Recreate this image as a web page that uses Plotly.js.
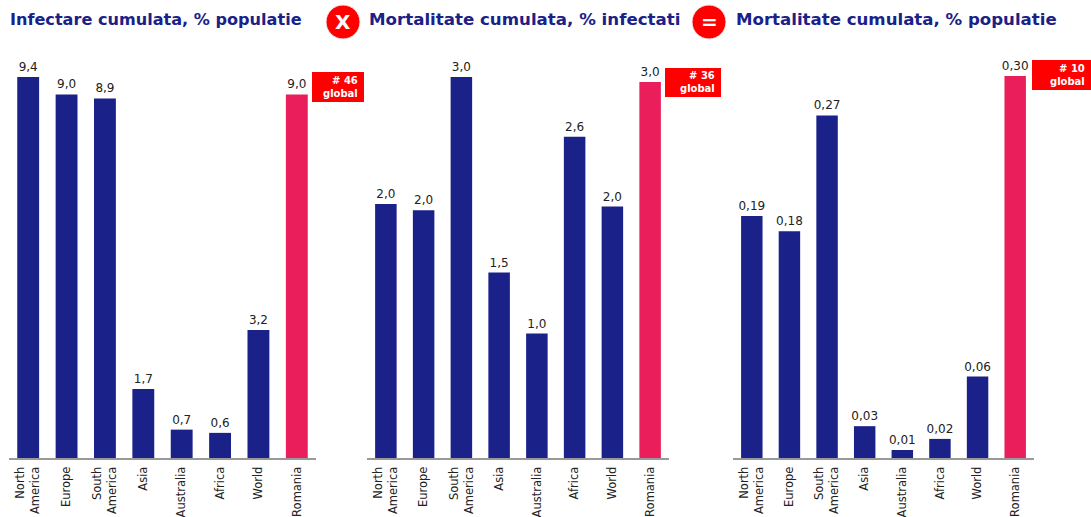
<!DOCTYPE html>
<html><head><meta charset="utf-8">
<script src="https://cdn.plot.ly/plotly-3.0.1.min.js"></script>
<style>html,body{margin:0;padding:0;background:#fff;overflow:hidden}</style></head>
<body><div id="c" style="width:1091px;height:517px"></div>
<script>
const categories=["North<br>America","Europe","South<br>America","Asia","Australia","Africa","World","Romania"];
const infectare=[9.4,8.97,8.87,1.7,0.7,0.62,3.16,8.97];
const mortInfectati=[2.0,1.95,3.0,1.46,0.98,2.53,1.98,2.96];
const mortPopulatie=[0.19,0.178,0.269,0.025,0.0063,0.015,0.064,0.30];
const labelsInfectare=["9,4","9,0","8,9","1,7","0,7","0,6","3,2","9,0"];
const labelsMortInfectati=["2,0","2,0","3,0","1,5","1,0","2,6","2,0","3,0"];
const labelsMortPopulatie=["0,19","0,18","0,27","0,03","0,01","0,02","0,06","0,30"];
const titles=["Infectare cumulata, % populatie","Mortalitate cumulata, % infectati","Mortalitate cumulata, % populatie"];
const badges=["# 46<br>global","# 36<br>global","# 10<br>global"];
const W=1091,H=517,NAVY="#1a2188",PINK="#e91e5a",RED="#ff0000",FONT="DejaVu Sans, Verdana, sans-serif";
const px=x=>x/W, py=y=>1-y/H;
const panels=[
 {vals:infectare,labels:labelsInfectare,x0:9,x1:316,top:77,max:9.4,badge:[312,364,72,102],title:8,ts:16.1},
 {vals:mortInfectati,labels:labelsMortInfectati,x0:367,x1:669,top:77,max:3.0,badge:[665,721,68,97],title:367,ts:16.65},
 {vals:mortPopulatie,labels:labelsMortPopulatie,x0:733,x1:1034,top:76,max:0.3,badge:[1032,1091,60,90],title:734,ts:16.6}];
const colors=categories.map(c=>c==="Romania"?PINK:NAVY);
const traces=[],layout={
 width:W,height:H,margin:{l:0,r:0,t:0,b:0},paper_bgcolor:"#fff",plot_bgcolor:"#fff",showlegend:false,
 font:{family:FONT,color:"#222",size:11.5},bargap:0.43,shapes:[],annotations:[]};
panels.forEach((p,i)=>{
 const s=i?String(i+1):"";
 traces.push({type:"bar",x:categories,y:p.vals,xaxis:"x"+s,yaxis:"y"+s,marker:{color:colors},
  text:p.labels,textposition:"outside",constraintext:"none",cliponaxis:false,
  textfont:{family:FONT,size:12,color:"#222"},hoverinfo:"x+y"});
 layout["xaxis"+s]={domain:[px(p.x0),px(p.x1)],anchor:"y"+s,type:"category",tickangle:-90,ticks:"",
  showline:true,linecolor:"#999",linewidth:2,showgrid:false,zeroline:false,ticklabelstandoff:2,
  tickfont:{family:FONT,size:11.5,color:"#222"},automargin:false,ticklen:0};
 layout["yaxis"+s]={domain:[py(458),py(p.top)],anchor:"x"+s,range:[0,p.max],visible:false,showgrid:false,zeroline:false};
 const b=p.badge;
 layout.shapes.push({type:"rect",xref:"paper",yref:"paper",x0:px(b[0]),x1:px(b[1]),y0:py(b[3]),y1:py(b[2]),fillcolor:RED,line:{width:0},layer:"above"});
 layout.annotations.push({xref:"paper",yref:"paper",x:px(b[1]-4),y:py((b[2]+b[3])/2),xanchor:"right",yanchor:"middle",align:"right",showarrow:false,
  text:"<b>"+badges[i]+"</b>",font:{family:FONT,size:10,color:"#fff"}});
 layout.annotations.push({xref:"paper",yref:"paper",x:px(p.title),y:py(20),xanchor:"left",yanchor:"middle",showarrow:false,
  text:"<b>"+titles[i]+"</b>",font:{family:FONT,size:p.ts,color:NAVY}});
});
[[343,"X"],[709,"="]].forEach(([cx,t])=>{
 const r=17,cy=22;
 layout.shapes.push({type:"circle",xref:"paper",yref:"paper",x0:px(cx-r),x1:px(cx+r),y0:py(cy+r),y1:py(cy-r),fillcolor:RED,line:{color:"#eee",width:1},layer:"above"});
 layout.annotations.push({xref:"paper",yref:"paper",x:px(cx),y:py(cy),xanchor:"center",yanchor:"middle",showarrow:false,
  text:"<b>"+t+"</b>",font:{family:FONT,size:20,color:"#fff"}});
});
Plotly.newPlot("c",traces,layout,{displayModeBar:false,responsive:false});
</script></body></html>
